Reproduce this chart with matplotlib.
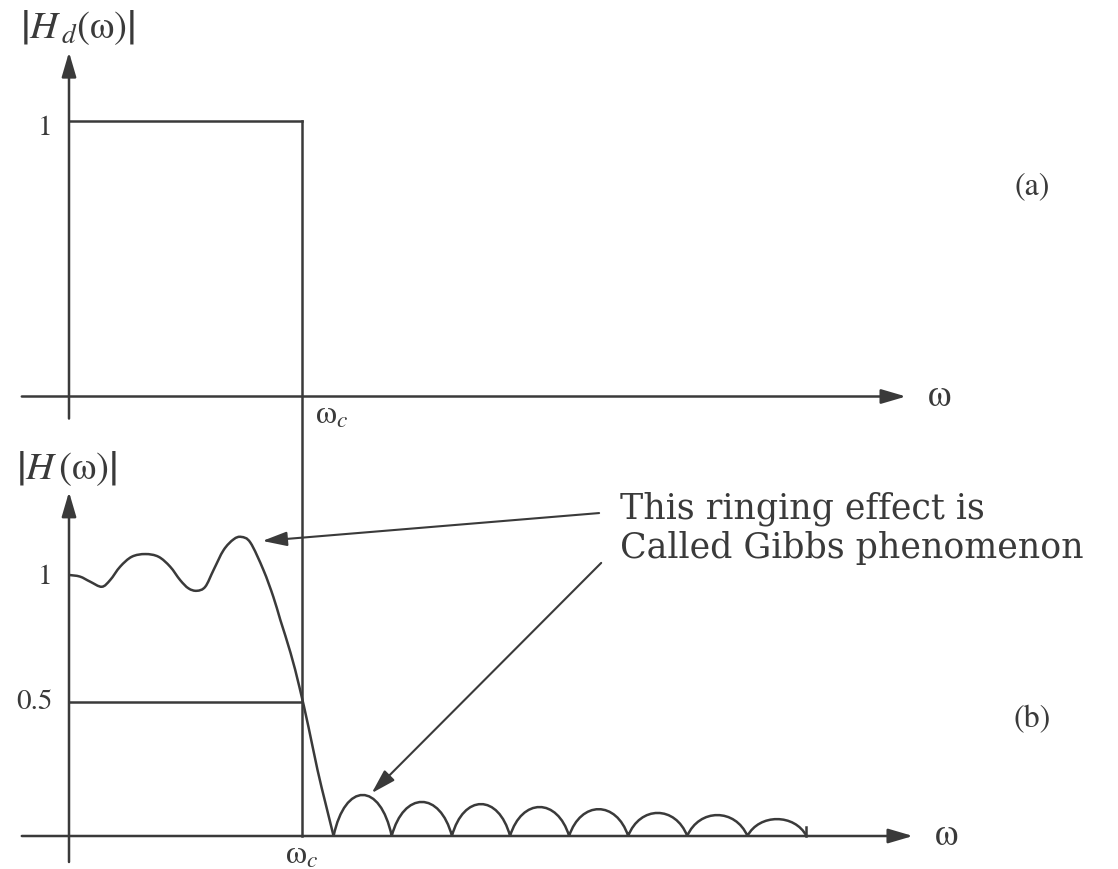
import numpy as np
import matplotlib.pyplot as plt
from matplotlib.path import Path
from matplotlib.patches import PathPatch

plt.rcParams['mathtext.fontset'] = 'stix'

# frequency axis in units of the cutoff (wc = 1)
wc = 1.0
half_level = 0.5

# (b) windowed response, pass band + transition
pass_w = [0.000, 0.047, 0.091, 0.141, 0.177, 0.220, 0.270, 0.328, 0.385,
          0.435, 0.478, 0.514, 0.550, 0.586, 0.622, 0.665, 0.708, 0.741,
          0.780, 0.836, 0.879, 0.909, 0.953, 0.991, 1.030, 1.069,
          1.103, 1.138]
pass_mag = [0.974, 0.968, 0.949, 0.930, 0.955, 1.005, 1.042, 1.052, 1.042,
            1.005, 0.955, 0.924, 0.915, 0.930, 0.993, 1.067, 1.107, 1.116,
            1.095, 0.993, 0.892, 0.806, 0.683, 0.556, 0.407, 0.246,
            0.123, 0.000]

# stop band ripples: zero crossings and lobe peaks
lobe_zeros = [1.138, 1.388, 1.647, 1.897, 2.151, 2.405, 2.659, 2.918, 3.172]
lobe_peaks = [0.153, 0.127, 0.119, 0.108, 0.100, 0.086, 0.078, 0.063]

ink = '#3a3a3a'
lw = 1.8
serif = 'STIXGeneral'
arrow_style = '-|>,head_length=0.75,head_width=0.22'

fig = plt.figure(figsize=(11.18, 8.69), dpi=100)
ax_a = fig.add_axes([0, 1 - 460 / 869, 1, 460 / 869])
ax_b = fig.add_axes([0, 0, 1, 409 / 869])

xlim = (-69 / 232.5, (1118 - 69) / 232.5)
ax_a.set_xlim(*xlim)
ax_b.set_xlim(*xlim)
ax_a.set_ylim(-(460 - 396.5) / 275.5, 396.5 / 275.5)
ax_b.set_ylim(-(869 - 836) / 268, (836 - 460) / 268)
for ax in (ax_a, ax_b):
    ax.axis('off')


def axis_arrow(ax, start, tip):
    ax.annotate('', xy=tip, xytext=start, annotation_clip=False,
                arrowprops=dict(arrowstyle=arrow_style, color=ink, lw=lw,
                                shrinkA=0, shrinkB=0, mutation_scale=20))


def smooth_path(xs, ys):
    # pass the read points through a Catmull-Rom style bezier
    pts = np.column_stack([xs, ys])
    n = len(pts)
    verts = [pts[0]]
    codes = [Path.MOVETO]
    for i in range(n - 1):
        p0 = pts[max(i - 1, 0)]
        p1 = pts[i]
        p2 = pts[i + 1]
        p3 = pts[min(i + 2, n - 1)]
        verts += [p1 + (p2 - p0) / 6, p2 - (p3 - p1) / 6, p2]
        codes += [Path.CURVE4] * 3
    return Path(verts, codes)


# ---- (a) ideal low pass ----
axis_arrow(ax_a, (-0.203, 0), (3.60, 0))
axis_arrow(ax_a, (0, -0.08), (0, 1.25))
ax_a.plot([0, wc], [1, 1], color=ink, lw=lw)
ax_a.plot([wc, wc], [1, ax_a.get_ylim()[0]], color=ink, lw=lw)

ax_a.annotate('1', xy=(0, 1), xytext=(-12, -5), textcoords='offset points',
              ha='right', va='center', fontsize=21, family=serif, color=ink)
ax_a.annotate('ω', xy=(3.60, 0), xytext=(16, 0), textcoords='offset points',
              ha='left', va='center', fontsize=27, family=serif, color=ink)
ax_a.annotate('ω$_c$', xy=(wc, 0), xytext=(10, -14), textcoords='offset points',
              ha='left', va='center', fontsize=24, family=serif, color=ink)
ax_a.annotate(r'$\left|H_{\,d}\mathrm{(ω)}\right|$', xy=(0, 1.25),
              xytext=(6, 18), textcoords='offset points', ha='center',
              va='center', fontsize=28, color=ink)

# ---- (b) windowed response ----
axis_arrow(ax_b, (-0.203, 0), (3.63, 0))
axis_arrow(ax_b, (0, -0.097), (0, 1.284))
ax_b.plot([wc, wc], [0, ax_b.get_ylim()[1]], color=ink, lw=lw)
ax_b.plot([0, wc], [half_level, half_level], color=ink, lw=lw)
ax_b.add_patch(PathPatch(smooth_path(pass_w, pass_mag), fill=False,
                         edgecolor=ink, lw=lw))

verts, codes = [], []
for z0, z1, h in zip(lobe_zeros[:-1], lobe_zeros[1:], lobe_peaks):
    w = z1 - z0
    verts += [(z0, 0), (z0 + 0.2 * w, 4 / 3 * h), (z1 - 0.2 * w, 4 / 3 * h), (z1, 0)]
    codes += [Path.MOVETO, Path.CURVE4, Path.CURVE4, Path.CURVE4]
ax_b.add_patch(PathPatch(Path(verts, codes), fill=False, edgecolor=ink, lw=lw))
ax_b.plot([lobe_zeros[-1], lobe_zeros[-1]], [0, 0.035], color=ink, lw=lw)

ax_b.annotate('1', xy=(0, 1), xytext=(-12, -7), textcoords='offset points',
              ha='right', va='center', fontsize=21, family=serif, color=ink)
ax_b.annotate('0.5', xy=(0, half_level), xytext=(-12, 0), textcoords='offset points',
              ha='right', va='center', fontsize=21, family=serif, color=ink)
ax_b.annotate('ω', xy=(3.63, 0), xytext=(16, 0), textcoords='offset points',
              ha='left', va='center', fontsize=27, family=serif, color=ink)
ax_b.annotate('ω$_c$', xy=(wc, 0), xytext=(0, -14), textcoords='offset points',
              ha='center', va='center', fontsize=24, family=serif, color=ink)
ax_b.annotate(r'$\left|H\,\mathrm{(ω)}\right|$', xy=(0, 1.284),
              xytext=(-2, 17), textcoords='offset points', ha='center',
              va='center', fontsize=28, color=ink)

# Gibbs annotation
ax_b.annotate('', xy=(0.832, 1.101), xytext=(2.28, 1.205),
              arrowprops=dict(arrowstyle=arrow_style, color=ink, lw=1.5,
                              shrinkA=0, shrinkB=0, mutation_scale=20))
ax_b.annotate('', xy=(1.302, 0.160), xytext=(2.289, 1.019),
              arrowprops=dict(arrowstyle=arrow_style, color=ink, lw=1.5,
                              shrinkA=0, shrinkB=0, mutation_scale=20))
fig.text(620 / 1118, 1 - 518 / 869, 'This ringing effect is', ha='left',
         va='baseline', fontsize=25, family='DejaVu Serif', color=ink)
fig.text(620 / 1118, 1 - 558 / 869, 'Called Gibbs phenomenon', ha='left',
         va='baseline', fontsize=25, family='DejaVu Serif', color=ink)

fig.text(1032 / 1118, 1 - 187 / 869, '(a)', ha='center', va='center',
         fontsize=23, family=serif, color=ink)
fig.text(1032 / 1118, 1 - 720 / 869, '(b)', ha='center', va='center',
         fontsize=23, family=serif, color=ink)

fig.savefig('out.png', dpi=100, facecolor='white')
